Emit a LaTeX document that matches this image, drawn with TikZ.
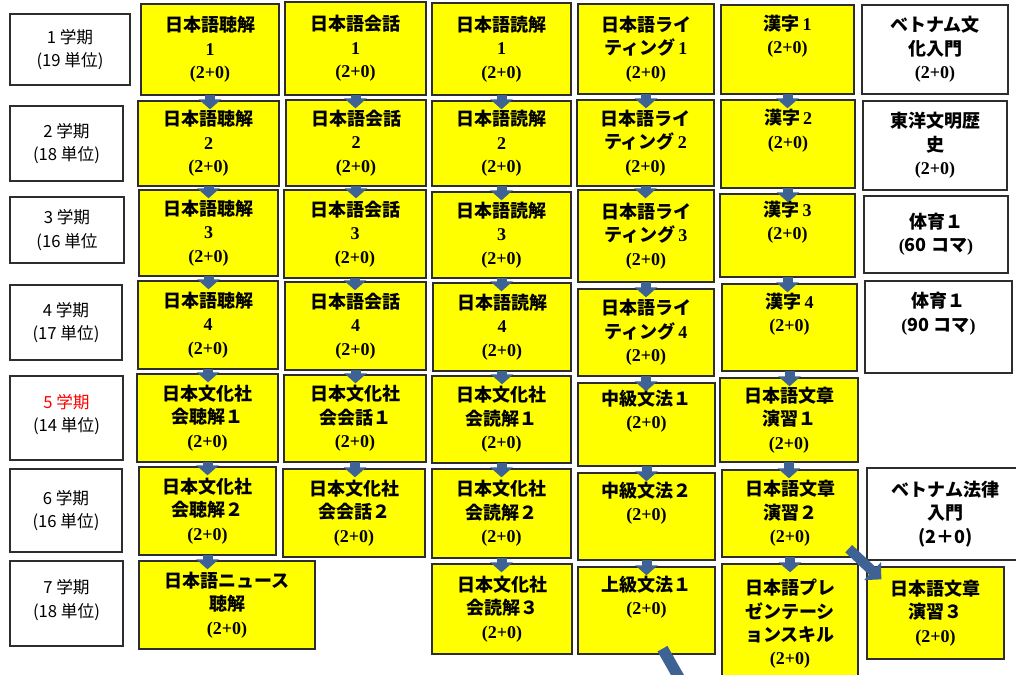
\documentclass[tikz,border=0pt]{standalone}
\usepackage{fontspec}
\setmainfont{Liberation Serif}
\newfontfamily\jpf{Noto Sans CJK JP}
\usetikzlibrary{arrows.meta,calc}
\definecolor{arrowblue}{RGB}{62,98,148}
\definecolor{edgegray}{RGB}{45,45,45}
\definecolor{boxyellow}{RGB}{255,255,0}
\newcommand{\J}[1]{{\jpf #1}}
\newcommand{\boxfont}{\fontsize{13.5}{17.5}\selectfont\bfseries}
\newcommand{\semfont}{\jpf\fontsize{12.5}{17.5}\selectfont}
\newcommand{\mybox}[7]{\node[#6, minimum width={(#4-#2)*0.75pt}, minimum height={(#5-#3)*0.75pt}] (#1) at ({(#2+#4)/2},{(#3+#5)/2}) {#7};}
\newcommand{\dnarrow}[2]{\draw[darr] ($(#1.south)+(0,-1)$) -- ($(#1.south |- #2.north)+(0,9)$);}
\tikzset{
  yb/.style={draw=edgegray, fill=boxyellow, line width=1pt, align=center, inner sep=0pt, font=\boxfont},
  wb/.style={draw=edgegray, fill=white, line width=1pt, align=center, inner sep=0pt, font=\boxfont},
  sem/.style={draw=edgegray, fill=white, line width=1pt, align=center, inner sep=0pt, font=\semfont},
  darr/.style={draw=arrowblue, line width=7.5pt, -{Triangle[width=16.5pt,length=7.5pt]}},
  diag/.style={draw=arrowblue, line width=7.5pt, -{Triangle[width=18pt,length=9pt]}},
  diagstem/.style={draw=arrowblue, line width=8.5pt}
}
\begin{document}
\begin{tikzpicture}[x=0.75pt,y=-0.75pt]
\useasboundingbox (0,0) rectangle (1016,674);
\clip (0,0) rectangle (1016,674);
\fill[white] (0,0) rectangle (1016,674);
% semesters
\mybox{s1}{10}{14}{130}{85}{sem}{1 学期\\(19 単位)}
\mybox{s2}{10}{106}{123}{181}{sem}{2 学期\\(18 単位)}
\mybox{s3}{10}{197}{124}{263}{sem}{3 学期\\(16 単位}
\mybox{s4}{10}{285}{122}{360}{sem}{4 学期\\(17 単位)}
\mybox{s5}{10}{376}{123}{460}{sem}{\textcolor{red}{5 学期}\\(14 単位)\\[-10pt]\mbox{}}
\mybox{s6}{10}{469}{122}{552}{sem}{6 学期\\(16 単位)}
\mybox{s7}{10}{561}{123}{646}{sem}{7 学期\\(18 単位)\\[-10pt]\mbox{}}
% column 1
\mybox{c1r1}{141}{4}{279}{95}{yb}{\J{日本語聴解}\\1\\(2+0)}
\mybox{c1r2}{138}{101}{279}{186}{yb}{\J{日本語聴解}\\2\\(2+0)}
\mybox{c1r3}{139}{190}{278}{276}{yb}{\J{日本語聴解}\\3\\(2+0)}
\mybox{c1r4}{138}{281}{278}{369}{yb}{\J{日本語聴解}\\4\\(2+0)}
\mybox{c1r5}{137}{374}{278}{462}{yb}{\J{日本文化社}\\\J{会聴解１}\\(2+0)}
\mybox{c1r6}{139}{467}{276}{555}{yb}{\J{日本文化社}\\\J{会聴解２}\\(2+0)}
\mybox{c1r7}{139}{561}{315}{649}{yb}{\J{日本語ニュース}\\\J{聴解}\\(2+0)}
% column 2
\mybox{c2r1}{285}{2}{426}{95}{yb}{\J{日本語会話}\\1\\(2+0)}
\mybox{c2r2}{286}{100}{426}{186}{yb}{\J{日本語会話}\\2\\(2+0)}
\mybox{c2r3}{284}{190}{426}{278}{yb}{\J{日本語会話}\\3\\(2+0)}
\mybox{c2r4}{285}{282}{426}{370}{yb}{\J{日本語会話}\\4\\(2+0)}
\mybox{c2r5}{284}{375}{426}{462}{yb}{\J{日本文化社}\\\J{会会話１}\\(2+0)}
\mybox{c2r6}{283}{469}{425}{557}{yb}{\J{日本文化社}\\\J{会会話２}\\(2+0)}
% column 3
\mybox{c3r1}{432}{3}{571}{95}{yb}{\J{日本語読解}\\1\\(2+0)}
\mybox{c3r2}{432}{101}{571}{186}{yb}{\J{日本語読解}\\2\\(2+0)}
\mybox{c3r3}{432}{192}{571}{278}{yb}{\J{日本語読解}\\3\\(2+0)}
\mybox{c3r4}{433}{283}{571}{371}{yb}{\J{日本語読解}\\4\\(2+0)}
\mybox{c3r5}{432}{376}{571}{463}{yb}{\J{日本文化社}\\\J{会読解１}\\(2+0)}
\mybox{c3r6}{432}{469}{571}{558}{yb}{\J{日本文化社}\\\J{会読解２}\\(2+0)}
\mybox{c3r7}{432}{564}{572}{654}{yb}{\J{日本文化社}\\\J{会読解３}\\(2+0)}
% column 4
\mybox{c4r1}{578}{4}{714}{94}{yb}{\J{日本語ライ}\\\J{ティング}\,1\\(2+0)}
\mybox{c4r2}{577}{100}{714}{186}{yb}{\J{日本語ライ}\\\J{ティング}\,2\\(2+0)}
\mybox{c4r3}{578}{190}{714}{282}{yb}{\J{日本語ライ}\\\J{ティング}\,3\\(2+0)}
\mybox{c4r4}{578}{289}{714}{376}{yb}{\J{日本語ライ}\\\J{ティング}\,4\\(2+0)}
\mybox{c4r5}{578}{383}{715}{466}{yb}{\J{中級文法１}\\(2+0)\\\strut}
\mybox{c4r6}{578}{473}{715}{560}{yb}{\J{中級文法２}\\(2+0)\\\strut}
\mybox{c4r7}{578}{567}{715}{654}{yb}{\J{上級文法１}\\(2+0)\\\strut}
% column 5
\mybox{c5r1}{721}{5}{854}{94}{yb}{\J{漢字}\,1\\(2+0)\\\strut}
\mybox{c5r2}{721}{100}{855}{188}{yb}{\J{漢字}\,2\\(2+0)\\\strut}
\mybox{c5r3}{720}{194}{855}{277}{yb}{\J{漢字}\,3\\(2+0)\\\strut}
\mybox{c5r4}{722}{284}{857}{371}{yb}{\J{漢字}\,4\\(2+0)\\\strut}
\mybox{c5r5}{720}{378}{858}{462}{yb}{\J{日本語文章}\\\J{演習１}\\(2+0)}
\mybox{c5r6}{722}{470}{858}{557}{yb}{\J{日本語文章}\\\J{演習２}\\(2+0)}
\mybox{c5r7}{722}{564}{858}{684}{yb}{\J{日本語プレ}\\\J{ゼンテーシ}\\\J{ョンスキル}\\(2+0)}
% column 6
\mybox{c6r1}{862}{5}{1008}{94}{wb}{\J{ベトナム文}\\\J{化入門}\\(2+0)}
\mybox{c6r2}{863}{101}{1007}{190}{wb}{\J{東洋文明歴}\\\J{史}\\(2+0)}
\mybox{c6r3}{864}{196}{1008}{273}{wb}{\J{体育１}\\(\J{60 コマ})}
\mybox{c6r4}{865}{281}{1012}{373}{wb}{\J{体育１}\\(\J{90 コマ})\\\strut}
\mybox{c6r6}{867}{468}{1024}{560}{wb}{\J{ベトナム法律}\\\J{入門}\\\J{(2＋0)}}
\mybox{c6r7}{867}{567}{1004}{659}{yb}{\J{日本語文章}\\\J{演習３}\\(2+0)}
% vertical arrows
\dnarrow{c1r1}{c1r2}\dnarrow{c1r2}{c1r3}\dnarrow{c1r3}{c1r4}
\dnarrow{c1r4}{c1r5}\dnarrow{c1r5}{c1r6}\dnarrow{c1r6}{c1r7}
\dnarrow{c2r1}{c2r2}\dnarrow{c2r2}{c2r3}\dnarrow{c2r3}{c2r4}
\dnarrow{c2r4}{c2r5}\dnarrow{c2r5}{c2r6}
\dnarrow{c3r1}{c3r2}\dnarrow{c3r2}{c3r3}\dnarrow{c3r3}{c3r4}
\dnarrow{c3r4}{c3r5}\dnarrow{c3r5}{c3r6}\dnarrow{c3r6}{c3r7}
\dnarrow{c4r1}{c4r2}\dnarrow{c4r2}{c4r3}\dnarrow{c4r3}{c4r4}
\dnarrow{c4r4}{c4r5}\dnarrow{c4r5}{c4r6}\dnarrow{c4r6}{c4r7}
\dnarrow{c5r1}{c5r2}\dnarrow{c5r2}{c5r3}\dnarrow{c5r3}{c5r4}
\dnarrow{c5r4}{c5r5}\dnarrow{c5r5}{c5r6}\dnarrow{c5r6}{c5r7}
% diagonal arrows
\draw[diag] ($(c5r6.south east)+(-10,-9)$) -- ($(c6r7.north west)+(15,13)$);
\coordinate (offpage) at (686,690);
\draw[diagstem] ($(c4r7.south)+(16,-6)$) -- (offpage);
\end{tikzpicture}
\end{document}
